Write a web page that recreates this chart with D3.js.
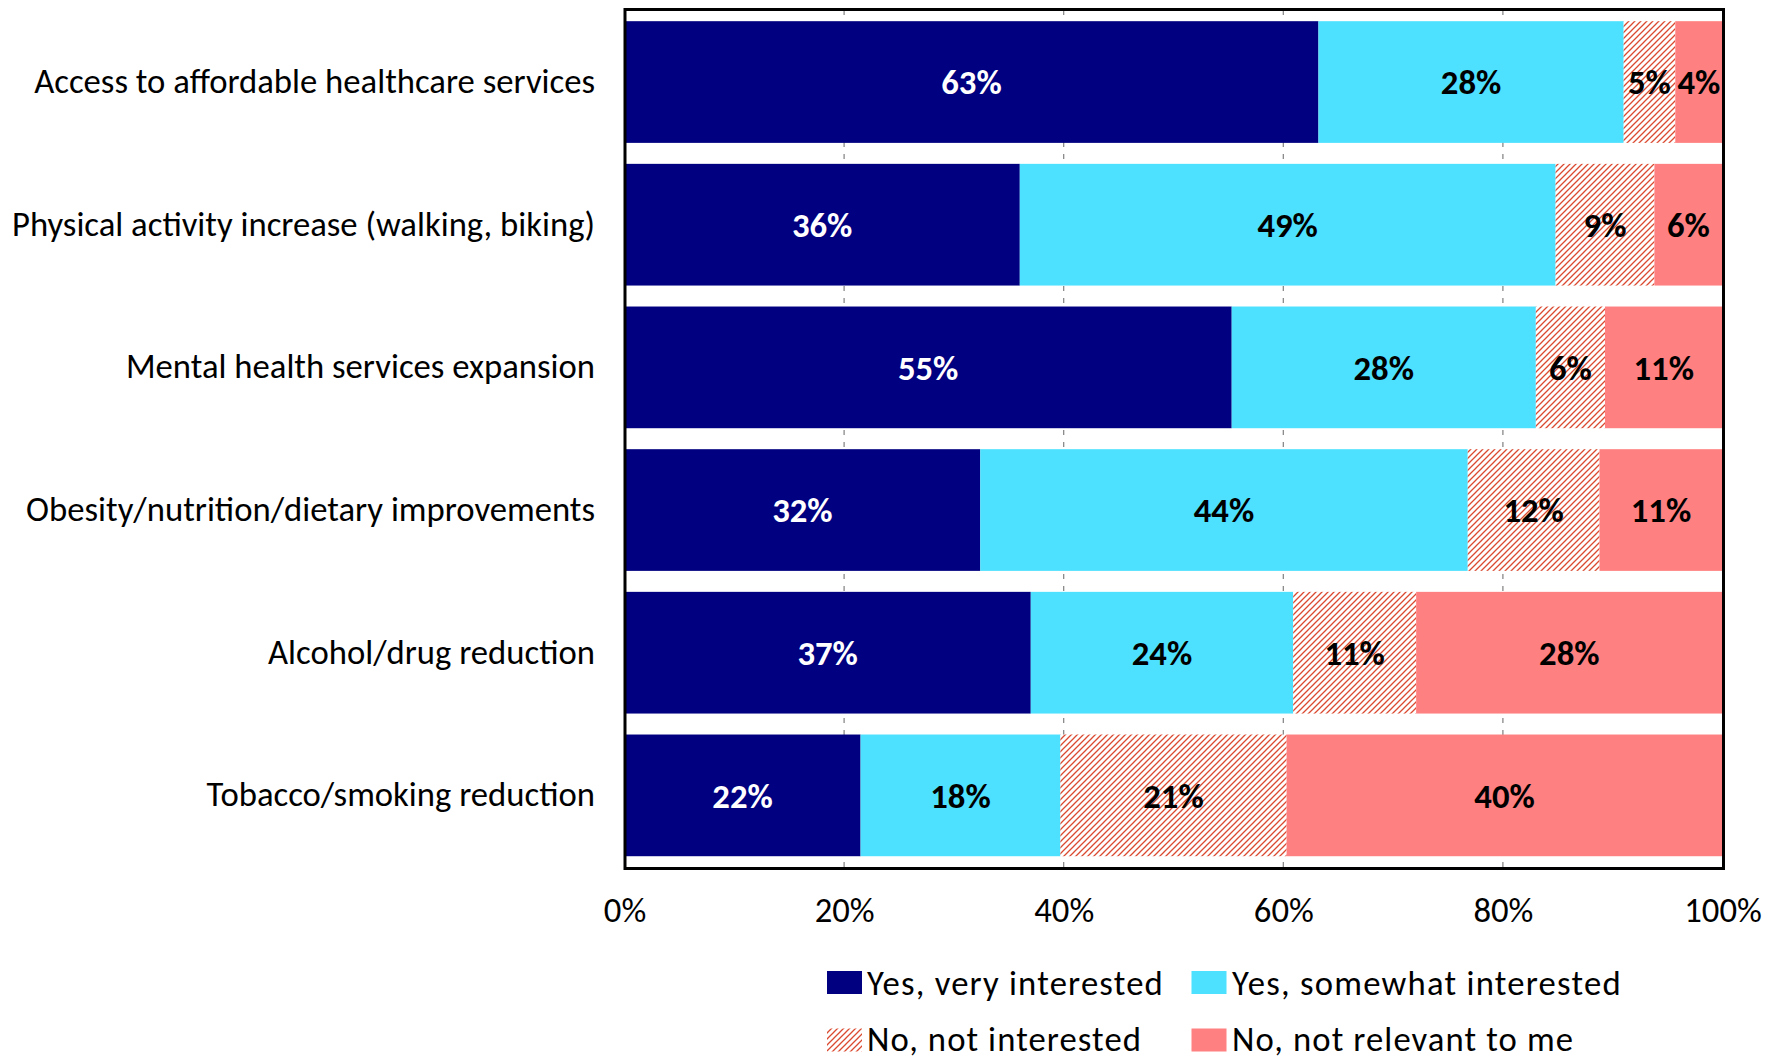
<!DOCTYPE html>
<html>
<head>
<meta charset="utf-8">
<script src="https://cdn.jsdelivr.net/npm/d3@7"></script>
<style>
  html, body { margin: 0; padding: 0; background: #fff; }
  svg { display: block; }
</style>
</head>
<body>
<svg id="chart" width="1777" height="1059"></svg>
<script>
const categories = [
  "Access to affordable healthcare services",
  "Physical activity increase (walking, biking)",
  "Mental health services expansion",
  "Obesity/nutrition/dietary improvements",
  "Alcohol/drug reduction",
  "Tobacco/smoking reduction"
];
const seriesNames = ["Yes, very interested", "Yes, somewhat interested", "No, not interested", "No, not relevant to me"];
const veryInterested = [63.2, 36.0, 55.3, 32.4, 37.0, 21.5];
const somewhatInterested = [27.8, 48.8, 27.7, 44.4, 23.9, 18.2];
const notInterested = [4.7, 9.0, 6.3, 12.0, 11.2, 20.6];
const notRelevant = [4.3, 6.2, 10.7, 11.2, 27.9, 39.7];
const xTicks = [0, 20, 40, 60, 80, 100];

const FONT = "Carlito, Lato, sans-serif";
const svg = d3.select("#chart");
const defs = svg.append("defs");
const hatch = defs.append("pattern")
  .attr("id", "hatch").attr("patternUnits", "userSpaceOnUse")
  .attr("width", 6).attr("height", 6);
hatch.append("rect").attr("width", 6).attr("height", 6).attr("fill", "#fff");
hatch.append("path")
  .attr("d", "M0,6 L6,0 M-1.5,1.5 L1.5,-1.5 M4.5,7.5 L7.5,4.5")
  .attr("stroke", "#DB4A30").attr("stroke-width", 1.3);

const fills = ["#000080", "#4DE1FF", "url(#hatch)", "#FF8080"];
const labelColors = ["#fff", "#000", "#000", "#000"];

function measure(txt, size) {
  const t = svg.append("text").attr("font-family", FONT).attr("font-size", size).text(txt);
  const w = t.node().getComputedTextLength();
  t.remove();
  return w;
}
// fit font size so the first category label spans ~561px like the original
const fs = Math.max(30, Math.min(36, 100 * 561 / measure(categories[0], 100)));

const table = categories.map((c, i) => ({
  cat: c,
  v0: veryInterested[i], v1: somewhatInterested[i], v2: notInterested[i], v3: notRelevant[i]
}));
const stack = d3.stack().keys(["v0", "v1", "v2", "v3"])(table);

const x = d3.scaleLinear().domain([0, 100]).range([624.5, 1722.5]);
const y = d3.scaleBand().domain(categories).range([10.7, 866.7]).paddingInner(0.147).paddingOuter(0.0735);

// dashed gridlines
svg.append("g").selectAll("line").data(xTicks.slice(1, -1)).join("line")
  .attr("x1", d => x(d)).attr("x2", d => x(d))
  .attr("y1", 10).attr("y2", 867)
  .attr("stroke", "#808080").attr("stroke-width", 1.2)
  .attr("stroke-dasharray", "5,7");

// bars
const layers = svg.append("g").selectAll("g").data(stack).join("g")
  .attr("fill", (d, i) => fills[i]);
layers.selectAll("rect").data(d => d).join("rect")
  .attr("x", d => x(d[0]))
  .attr("width", d => x(d[1]) - x(d[0]))
  .attr("y", d => y(d.data.cat))
  .attr("height", y.bandwidth());

// data labels
const lab = svg.append("g").attr("font-family", FONT).attr("font-weight", "bold").attr("font-size", fs);
stack.forEach((layer, li) => {
  lab.append("g").attr("fill", labelColors[li]).selectAll("text").data(layer).join("text")
    .attr("x", d => (x(d[0]) + x(d[1])) / 2)
    .attr("y", d => y(d.data.cat) + y.bandwidth() / 2)
    .attr("dy", "0.35em")
    .attr("text-anchor", "middle")
    .text(d => Math.round(d[1] - d[0]) + "%");
});

// frame
svg.append("rect")
  .attr("x", 625).attr("y", 9.5).attr("width", 1723.5 - 625).attr("height", 868.5 - 9.5)
  .attr("fill", "none").attr("stroke", "#000").attr("stroke-width", 3);

// category axis
const yAxis = d3.axisLeft(y).tickSize(0).tickPadding(0);
const gy = svg.append("g").attr("transform", "translate(595,0)").call(yAxis);
gy.select(".domain").remove();
gy.selectAll("text").attr("font-family", FONT).attr("font-size", fs).attr("fill", "#000");

// x axis
const xAxis = d3.axisBottom(x).tickValues(xTicks).tickFormat(d => d + "%").tickSize(0).tickPadding(0);
const gx = svg.append("g").attr("transform", "translate(0,897)").call(xAxis);
gx.select(".domain").remove();
gx.selectAll("text").attr("font-family", FONT).attr("font-size", fs).attr("fill", "#000").attr("dy", "0.71em");

// legend
const legendPos = [
  { sx: 827, sy: 971, tx: 867, ty: 982.5, w: 297 },
  { sx: 1191.5, sy: 971, tx: 1232, ty: 982.5, w: 390 },
  { sx: 827, sy: 1028.5, tx: 867, ty: 1039, w: 275 },
  { sx: 1191.5, sy: 1028.5, tx: 1232, ty: 1039, w: 342 }
];
const lg = svg.append("g");
seriesNames.forEach((name, i) => {
  const p = legendPos[i];
  lg.append("rect").attr("x", p.sx).attr("y", p.sy).attr("width", 35).attr("height", 23).attr("fill", fills[i]);
  const natural = measure(name, fs);
  const ls = Math.max(0, Math.min(2, (p.w - natural) / name.length));
  lg.append("text").attr("x", p.tx).attr("y", p.ty).attr("dy", "0.35em")
    .attr("font-family", FONT).attr("font-size", fs).attr("fill", "#000")
    .attr("letter-spacing", ls.toFixed(2)).text(name);
});
</script>
</body>
</html>
